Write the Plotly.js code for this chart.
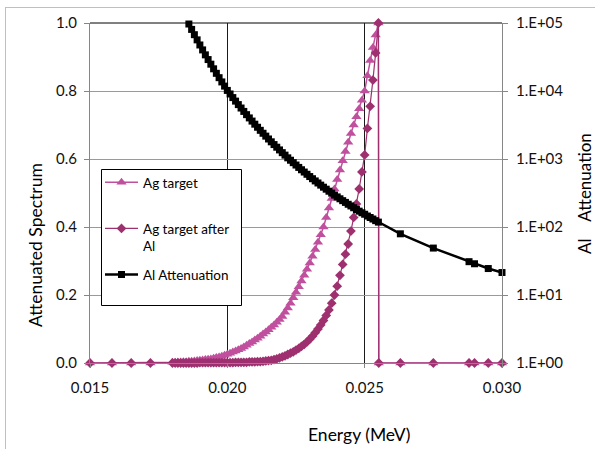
<!DOCTYPE html>
<html>
<head>
<meta charset="utf-8">
<script src="https://cdn.plot.ly/plotly-3.0.1.min.js"></script>
<style>html,body{margin:0;padding:0;background:#fff}#chart{width:595px;height:449px}</style>
</head>
<body>
<div id="chart"></div>
<script>
// Energy grid (MeV) for the two Ag spectra
const energyAg = [0.0150,0.0158,0.0165,0.0172,
  0.0180,0.0181,0.0182,0.0183,0.0184,0.0185,0.0186,0.0187,0.0188,0.0189,
  0.0190,0.0191,0.0192,0.0193,0.0194,0.0195,0.0196,0.0197,0.0198,0.0199,
  0.0200,0.0201,0.0202,0.0203,0.0204,0.0205,0.0206,0.0207,0.0208,0.0209,
  0.0210,0.0211,0.0212,0.0213,0.0214,0.0215,0.0216,0.0217,0.0218,0.0219,
  0.0220,0.0221,0.0222,0.0223,0.0224,0.0225,0.0226,0.0227,0.0228,0.0229,
  0.0230,0.0231,0.0232,0.0233,0.0234,0.0235,0.0236,0.0237,0.0238,0.0239,
  0.0240,0.0241,0.0242,0.0243,0.0244,0.0245,0.0246,0.0247,0.0248,0.0249,
  0.0250,0.0251,0.0252,0.0253,0.0254,0.0255,
  0.025514,0.0263,0.0275,0.0288,0.0290,0.0295,0.0300];

const agTarget = [0,0,0,0,
  0.002,0.002,0.003,0.003,0.004,0.004,0.005,0.005,0.006,0.007,
  0.008,0.009,0.010,0.011,0.012,0.014,0.016,0.018,0.020,0.023,
  0.026,0.029,0.032,0.035,0.039,0.043,0.047,0.052,0.057,0.062,
  0.068,0.073,0.079,0.085,0.091,0.098,0.105,0.112,0.120,0.128,
  0.137,0.149,0.162,0.176,0.192,0.208,0.224,0.241,0.258,0.276,
  0.294,0.314,0.334,0.355,0.377,0.400,0.428,0.456,0.484,0.512,
  0.540,0.568,0.595,0.622,0.649,0.675,0.700,0.724,0.748,0.773,
  0.800,0.845,0.890,0.928,0.965,1.000,
  0,0,0,0,0,0,0];

const agTargetAfterAl = [0,0,0,0,
  0.000,0.000,0.000,0.000,0.000,0.000,0.000,0.000,0.000,0.000,
  0.001,0.001,0.001,0.001,0.001,0.001,0.001,0.001,0.001,0.001,
  0.001,0.001,0.001,0.002,0.002,0.002,0.002,0.002,0.003,0.003,
  0.003,0.004,0.004,0.005,0.006,0.007,0.008,0.010,0.012,0.015,
  0.018,0.021,0.025,0.029,0.033,0.038,0.043,0.049,0.055,0.062,
  0.070,0.079,0.089,0.100,0.112,0.125,0.140,0.156,0.176,0.200,
  0.226,0.258,0.290,0.320,0.350,0.388,0.428,0.468,0.512,0.562,
  0.612,0.690,0.755,0.832,0.912,1.000,
  0,0,0,0,0,0,0];

// Energy grid (MeV) and Al attenuation factor (right, log axis)
const energyAl = [
  0.0186,0.0187,0.0188,0.0189,0.0190,0.0191,0.0192,0.0193,0.0194,0.0195,
  0.0196,0.0197,0.0198,0.0199,0.0200,
  0.0201,0.0202,0.0203,0.0204,0.0205,0.0206,0.0207,0.0208,0.0209,0.0210,
  0.0211,0.0212,0.0213,0.0214,0.0215,0.0216,0.0217,0.0218,0.0219,0.0220,
  0.0221,0.0222,0.0223,0.0224,0.0225,0.0226,0.0227,0.0228,0.0229,0.0230,
  0.0231,0.0232,0.0233,0.0234,0.0235,0.0236,0.0237,0.0238,0.0239,0.0240,
  0.0241,0.0242,0.0243,0.0244,0.0245,0.0246,0.0247,0.0248,0.0249,0.0250,
  0.0251,0.0252,0.0253,0.0254,0.0255,
  0.0263,0.0275,0.0288,0.0290,0.0295,0.0300];

const alAttenuation = [
  96600,80500,67300,56500,47500,40200,34000,29000,24800,21200,
  18200,15700,13600,11800,10200,
  9040,8000,7100,6310,5620,5010,4490,4020,3610,3250,
  2930,2640,2390,2170,1970,1790,1630,1490,1360,1240,
  1140,1040,959,883,815,752,695,643,596,552,
  513,476,444,413,385,360,336,315,295,277,
  260,244,230,216,204,192,181,171,162,154,
  145,138,131,124,118,
  79.4,49.0,30.9,28.8,24.5,21.4];

const xTicks = [0.015,0.020,0.025,0.030];
const yTicks = [0,0.2,0.4,0.6,0.8,1.0];
const y2TickVals = [1,10,100,1000,10000,100000];
const y2TickText = ['1.E+00','1.E+01','1.E+02','1.E+03','1.E+04','1.E+05'];

const seriesNames = ['Ag target<br>\u00a0', 'Ag target after<br>Al', 'Al Attenuation'];

const FONT = 'Lato, "Open Sans", sans-serif';
const colAg = '#C0509E';
const colAgAl = '#9E3070';

const traces = [
  {x: energyAg, y: agTarget, name: seriesNames[0], legendgroup: 'g1', type: 'scatter', mode: 'lines+markers',
   line: {color: colAg, width: 1.5}, marker: {symbol: 'triangle-up', size: 9, color: colAg},
   cliponaxis: false},
  {x: energyAg, y: agTargetAfterAl, name: seriesNames[1], legendgroup: 'g2', type: 'scatter', mode: 'lines+markers',
   line: {color: colAgAl, width: 1.2}, marker: {symbol: 'diamond', size: 7.5, color: colAgAl},
   cliponaxis: false},
  {x: energyAl, y: alAttenuation, name: seriesNames[2], legendgroup: 'g3', type: 'scatter', mode: 'lines+markers',
   yaxis: 'y2', line: {color: '#000', width: 2.5}, marker: {symbol: 'square', size: 7, color: '#000'},
   cliponaxis: false}
];

const L = 90, R = 502, T = 23, B = 363;
const px = v => (v - L) / (R - L);
const py = v => (B - v) / (B - T);

const layout = {
  width: 595, height: 449,
  margin: {l: 90, r: 93, t: 23, b: 86},
  paper_bgcolor: '#fff', plot_bgcolor: '#fff',
  font: {family: FONT, size: 15, color: '#000'},
  showlegend: true,
  xaxis: {range: [0.015, 0.030], tickvals: xTicks, tickformat: '.3f',
    showgrid: true, gridcolor: '#1a1a1a', gridwidth: 1, zeroline: false,
    showline: true, linecolor: '#868686', linewidth: 1,
    ticks: 'outside', ticklen: 4, tickcolor: '#868686', ticklabelstandoff: 7,
    tickfont: {family: FONT, size: 15, color: '#111'}},
  yaxis: {range: [0, 1], tickvals: yTicks, tickformat: '.1f',
    showgrid: true, gridcolor: '#9a9a9a', gridwidth: 1, zeroline: false,
    showline: true, linecolor: '#868686', linewidth: 1,
    ticks: 'outside', ticklen: 5, tickcolor: '#868686', ticklabelstandoff: 4,
    tickfont: {family: FONT, size: 15, color: '#111'}},
  yaxis2: {type: 'log', range: [0, 5], overlaying: 'y', side: 'right',
    tickvals: y2TickVals, ticktext: y2TickText,
    showgrid: false, zeroline: false,
    showline: true, linecolor: '#868686', linewidth: 1,
    ticks: 'outside', ticklen: 5, tickcolor: '#868686', ticklabelstandoff: 5,
    tickfont: {family: FONT, size: 15, color: '#111'}},
  legend: {x: px(100), y: py(167), xanchor: 'left', yanchor: 'top',
    bgcolor: 'rgba(0,0,0,0)', borderwidth: 0,
    font: {family: FONT, size: 13.5, color: '#000'}, valign: 'top',
    traceorder: 'grouped', tracegroupgap: 8, itemwidth: 33},
  shapes: [
    {type: 'line', xref: 'paper', yref: 'paper', x0: 0, x1: 1, y0: 1, y1: 1,
     line: {color: '#000', width: 1}, layer: 'below'},
    // legend frame
    {type: 'rect', xref: 'paper', yref: 'paper', x0: px(101.5), x1: px(241.5), y0: py(305.5), y1: py(169.5),
     line: {color: '#000', width: 1}, fillcolor: '#fff', layer: 'above'}
  ],
  annotations: [
    // chart-area frame (only the left and top edges fall inside the picture)
    {text: '\u00a0', xref: 'paper', yref: 'paper', x: px(5), y: py(7),
     xanchor: 'left', yanchor: 'top', showarrow: false, width: 640, height: 480,
     bordercolor: '#BFBFBF', borderwidth: 1, borderpad: 0, font: {size: 10}},
    {text: 'Attenuated Spectrum', xref: 'paper', yref: 'paper', x: px(35), y: py(245),
     textangle: -90, showarrow: false, xanchor: 'center', yanchor: 'middle',
     font: {family: FONT, size: 17.5, color: '#000'}},
    {text: 'Al\u00a0\u00a0\u00a0 Attenuation', xref: 'paper', yref: 'paper', x: px(584), y: py(194),
     textangle: -90, showarrow: false, xanchor: 'center', yanchor: 'middle',
     font: {family: FONT, size: 17, color: '#000'}},
    {text: 'Energy (MeV)', xref: 'paper', yref: 'paper', x: px(359), y: py(435),
     showarrow: false, xanchor: 'center', yanchor: 'middle',
     font: {family: FONT, size: 17.5, color: '#000'}}
  ]
};

Plotly.newPlot('chart', traces, layout, {staticPlot: true, displayModeBar: false});
</script>
</body>
</html>
